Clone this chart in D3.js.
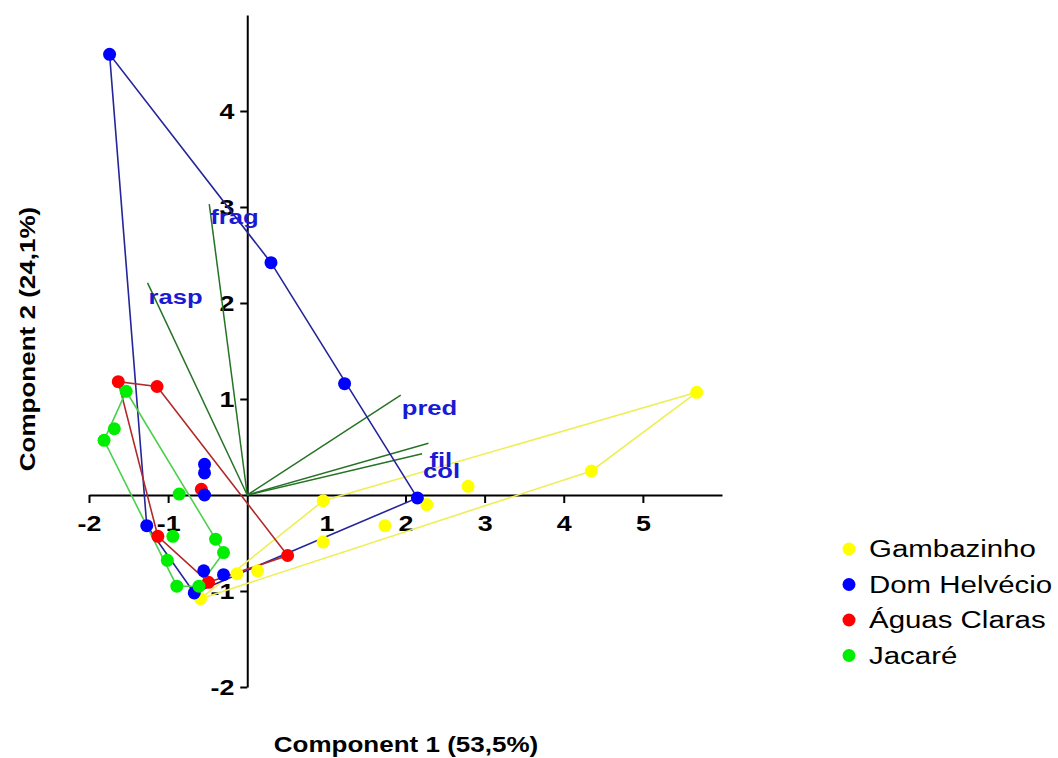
<!DOCTYPE html>
<html>
<head>
<meta charset="utf-8">
<script src="https://cdn.jsdelivr.net/npm/d3@7"></script>
<style>
  body { margin: 0; background: #fff; }
  svg { display: block; }
</style>
</head>
<body>
<svg id="chart" width="1058" height="758"></svg>
<script>
// PCA biplot: site scores on the first two components, convex hulls per site,
// and the variable loadings drawn as vectors from the origin.

const groups = ["Gambazinho", "Dom Helvécio", "Águas Claras", "Jacaré"];

const gambazinhoScores = [
  [5.68, 1.07], [4.35, 0.25], [2.79, 0.09], [2.27, -0.10], [1.74, -0.32],
  [0.96, -0.06], [0.96, -0.49], [0.13, -0.79], [-0.13, -0.82], [-0.59, -1.08]
];
const domHelvecioScores = [
  [-1.74, 4.59], [0.30, 2.42], [1.23, 1.16], [2.15, -0.03], [-0.54, 0.32],
  [-0.54, 0.23], [-0.54, 0.00], [-1.27, -0.32], [-0.55, -0.79], [-0.30, -0.83],
  [-0.67, -1.02]
];
const aguasClarasScores = [
  [-1.63, 1.18], [-1.14, 1.13], [-0.58, 0.06], [-1.13, -0.43], [0.51, -0.63],
  [-0.49, -0.91]
];
const jacareScores = [
  [-1.53, 1.08], [-1.68, 0.69], [-1.81, 0.57], [-0.86, 0.01], [-0.94, -0.43],
  [-0.40, -0.46], [-0.30, -0.60], [-1.01, -0.68], [-0.89, -0.95], [-0.61, -0.95]
];

const loadingNames = ["frag", "rasp", "pred", "fil", "col"];
const loadingX = [-0.48, -1.26, 1.94, 2.29, 2.21];
const loadingY = [3.03, 2.21, 1.04, 0.54, 0.43];

const xTickValues = [-2, -1, 1, 2, 3, 4, 5];
const yTickValues = [-2, -1, 1, 2, 3, 4];
const xTitle = "Component 1 (53,5%)";
const yTitle = "Component 2 (24,1%)";

// ---- styling ----
const pointColors = ["#ffff00", "#0000ff", "#ff0000", "#00ee00"];
const hullColors = ["#eeee55", "#25259a", "#b02a2a", "#4cd04c"];
const vectorColor = "#267326";
const labelColor = "#1a1ad6";
const labelDrop = [20, 21, 20, 24, 24];   // vertical gap between vector tip and its label
const stretch = 1.22;   // glyphs in this chart are set wide
const FONT = "Arial, 'Liberation Sans', Helvetica, sans-serif";

const svg = d3.select("#chart");
svg.append("rect").attr("width", 1058).attr("height", 758).attr("fill", "#fff");

const x = d3.scaleLinear().domain([-2, 6]).range([89, 722]);
const y = d3.scaleLinear().domain([-2, 5]).range([687, 15]);

// ---- axes crossing at the origin ----
const plainInt = d => String(d);
const xAxis = d3.axisBottom(x).tickValues(xTickValues).tickSize(8).tickSizeOuter(0).tickPadding(12)
  .tickFormat(plainInt);
const yAxis = d3.axisLeft(y).tickValues(yTickValues).tickSize(7).tickSizeOuter(0).tickPadding(3.5)
  .tickFormat(plainInt);

function styleAxis(g) {
  g.select(".domain").attr("stroke", "#000").attr("stroke-width", 2);
  g.selectAll(".tick line").attr("stroke", "#000").attr("stroke-width", 2);
  g.selectAll(".tick text")
    .attr("fill", "#000")
    .style("font-family", FONT)
    .style("font-weight", "bold")
    .style("font-size", "22px")
    .attr("transform", `scale(${stretch},1)`);
}

svg.append("g").attr("transform", `translate(0,${y(0)})`).call(xAxis).call(styleAxis);
svg.append("g").attr("transform", `translate(${x(0)},0)`).call(yAxis).call(styleAxis);

// text with the wide set used across the chart
function wideText(parent, str, px, py, opts) {
  const o = Object.assign({ size: 22, weight: "bold", anchor: "start", fill: "#000", rotate: 0 }, opts);
  return parent.append("text")
    .attr("transform", `translate(${px},${py}) rotate(${o.rotate}) scale(${o.scale || stretch},1)`)
    .attr("text-anchor", o.anchor)
    .attr("fill", o.fill)
    .style("font-family", FONT)
    .style("font-weight", o.weight)
    .style("font-size", o.size + "px")
    .text(str);
}

// ---- loading vectors ----
const vecG = svg.append("g");
loadingNames.forEach((name, i) => {
  vecG.append("line")
    .attr("x1", x(0)).attr("y1", y(0))
    .attr("x2", x(loadingX[i])).attr("y2", y(loadingY[i]))
    .attr("stroke", vectorColor).attr("stroke-width", 1.5);
});

// ---- convex hulls ----
const scoreSets = [gambazinhoScores, domHelvecioScores, aguasClarasScores, jacareScores];
const hullG = svg.append("g");
scoreSets.forEach((pts, i) => {
  const hull = d3.polygonHull(pts.map(p => [x(p[0]), y(p[1])]));
  hullG.append("path")
    .attr("d", "M" + hull.join("L") + "Z")
    .attr("fill", "none")
    .attr("stroke", hullColors[i])
    .attr("stroke-width", 1.6);
});

// ---- loading labels ----
const labG = svg.append("g");
loadingNames.forEach((name, i) => {
  wideText(labG, name, x(loadingX[i]) + 1, y(loadingY[i]) + labelDrop[i], { size: 21, fill: labelColor });
});

// ---- site scores ----
const drawOrder = [0, 2, 1, 3];
const ptG = svg.append("g");
drawOrder.forEach(i => {
  ptG.selectAll(null).data(scoreSets[i]).enter().append("circle")
    .attr("cx", d => x(d[0])).attr("cy", d => y(d[1]))
    .attr("r", 6.5)
    .attr("fill", pointColors[i]);
});

// ---- axis titles ----
wideText(svg, xTitle, 406, 752, { size: 21.5, anchor: "middle", scale: 1.21 });
wideText(svg, yTitle, 35, 339, { size: 21.5, anchor: "middle", rotate: -90, scale: 1.21 });

// ---- legend ----
const legend = svg.append("g");
groups.forEach((name, i) => {
  const cy = 549 + i * 35.5;
  legend.append("circle").attr("cx", 849).attr("cy", cy).attr("r", 6.5).attr("fill", pointColors[i]);
  wideText(legend, name, 869, cy + 8, { size: 23, weight: "normal", scale: 1.28 });
});
</script>
</body>
</html>
